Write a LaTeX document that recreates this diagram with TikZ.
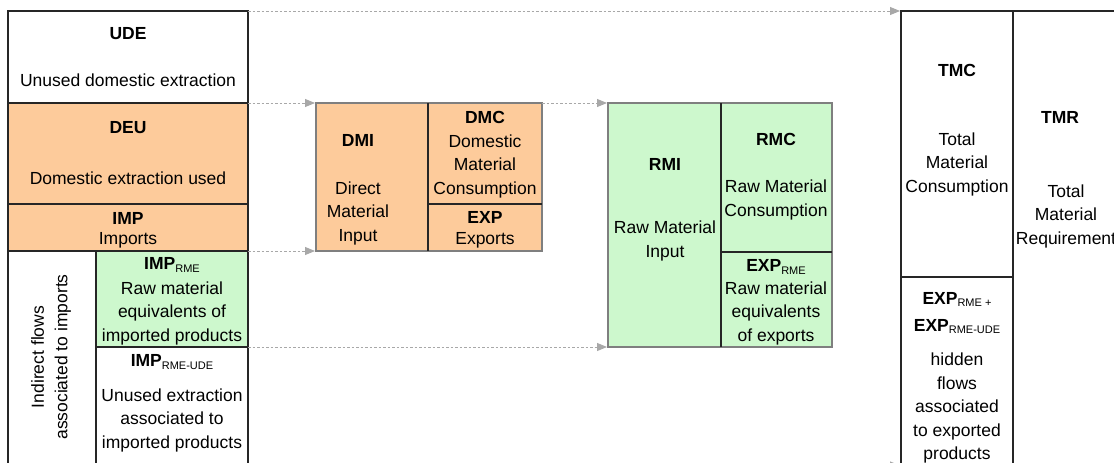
\documentclass[tikz,border=0pt]{standalone}
\usepackage{fontspec}
\setmainfont{Liberation Sans}
\usetikzlibrary{arrows.meta}
\definecolor{peach}{HTML}{FDCB9B}
\definecolor{mint}{HTML}{CDF8CD}
\definecolor{flowgray}{HTML}{A8A8A8}
\definecolor{framegray}{HTML}{7F7F7F}
\newcommand\lowsub[1]{\raisebox{-2.5pt}{\fontsize{11}{12}\selectfont\mdseries #1}}
\begin{document}
\begin{tikzpicture}[x=1pt,y=-1pt,
  txt/.style={font=\fontsize{17.5}{23.5}\selectfont, align=center, inner sep=0pt},
  ttl/.style={font=\fontsize{17.5}{27}\selectfont\bfseries, align=center, inner sep=0pt},
  edge/.style={draw=black!85, line width=1.1pt},
  frame/.style={draw=framegray, line width=1.1pt},
  flow/.style={draw=flowgray, line width=1pt, dash pattern=on 2.5pt off 2pt,
    -{Triangle[length=10pt,width=8pt,fill=flowgray]}, shorten >=1pt}]
\useasboundingbox (0,0) rectangle (1114,463);

% ---------- coordinates ----------
\coordinate (udeNE) at (248,11);
\coordinate (deuNE) at (248,103);
\coordinate (impSE) at (248,251);
\coordinate (imprmeSE) at (248,347);
\coordinate (lowE) at (248,465.5);
\coordinate (dmiNW) at (316,103);
\coordinate (dmiSW) at (316,251);
\coordinate (dmcNE) at (542,103);
\coordinate (rmiNW) at (608,103);
\coordinate (rmiSW) at (608,347);
\coordinate (tmcNW) at (901,11);
\coordinate (tmcLow) at (901,465.5);

% ---------- left column ----------
\fill[peach] (8,103) rectangle (248,251);
\fill[mint] (96,251) rectangle (248,347);
\draw[edge] (8,463) -- (8,11) -- (248,11) -- (248,463);
\draw[edge] (8,103) -- (248,103);
\draw[edge] (8,204) -- (248,204);
\draw[edge] (8,251) -- (248,251);
\draw[edge] (96,251) -- (96,463);
\draw[edge] (96,347) -- (248,347);

\node[ttl] (udeT) at (128,34) {UDE};
\node[txt] (udeB) at (128,80) {Unused domestic extraction};
\node[ttl] (deuT) at (128,128) {DEU};
\node[txt] (deuB) at (128,178) {Domestic extraction used};
\node[ttl] (impT) at (128,218) {IMP};
\node[txt] (impB) at (128,240) {Imports};
\node[txt, rotate=90] (indir) at (51,357) {Indirect flows\\associated to imports};
\node[ttl] (imprmeT) at (172,265) {IMP\lowsub{RME}};
\node[txt] (imprmeB) at (172,313) {Raw material\\equivalents of\\imported products};
\node[ttl] (impudeT) at (172,362) {IMP\lowsub{RME-UDE}};
\node[txt] (impudeB) at (172,420) {Unused extraction\\associated to\\imported products};

% ---------- DMI block ----------
\fill[peach] (316,103) rectangle (542,251);
\draw[frame] (316,103) rectangle (542,251);
\draw[edge] (428,103) -- (428,251);
\draw[edge] (428,204) -- (542,204);
\node[ttl] (dmiT) at (358,140) {DMI};
\node[txt] (dmiB) at (358,213) {Direct\\Material\\Input};
\node[ttl] (dmcT) at (485,117) {DMC};
\node[txt] (dmcB) at (485,166) {Domestic\\Material\\Consumption};
\node[ttl] (expT) at (485,217) {EXP};
\node[txt] (expB) at (485,240) {Exports};

% ---------- RMI block ----------
\fill[mint] (608,103) rectangle (832,347);
\draw[frame] (608,103) rectangle (832,347);
\draw[edge] (721,103) -- (721,347);
\draw[edge] (721,252) -- (832,252);
\node[ttl] (rmiT) at (665,164) {RMI};
\node[txt] (rmiB) at (665,241) {Raw Material\\Input};
\node[ttl] (rmcT) at (776,139) {RMC};
\node[txt] (rmcB) at (776,200) {Raw Material\\Consumption};
\node[ttl] (exprmeT) at (776,267) {EXP\lowsub{RME}};
\node[txt] (exprmeB) at (776,313) {Raw material\\equivalents\\of exports};

% ---------- TMC / TMR ----------
\draw[edge] (901,463) -- (901,11) -- (1114,11);
\draw[edge] (1013,11) -- (1013,463);
\draw[edge] (901,277) -- (1013,277);
\node[ttl] (tmcT) at (957,70) {TMC};
\node[txt] (tmcB) at (957,164) {Total\\Material\\Consumption};
\node[ttl] (tmrT) at (1060,117) {TMR};
\node[txt] (tmrB) at (1066,216) {Total\\Material\\Requirement};
\node[ttl] (exphT) at (957,313) {EXP\lowsub{RME +}\\EXP\lowsub{RME-UDE}};
\node[txt] (exphB) at (957,408) {hidden\\flows\\associated\\to exported\\products};

% ---------- flows ----------
\draw[flow] (udeNE) -- (tmcNW);
\draw[flow] (deuNE) -- (dmiNW);
\draw[flow] (impSE) -- (dmiSW);
\draw[flow] (dmcNE) -- (rmiNW);
\draw[flow] (imprmeSE) -- (rmiSW);
\draw[flow] (lowE) -- (tmcLow);
\end{tikzpicture}
\end{document}
